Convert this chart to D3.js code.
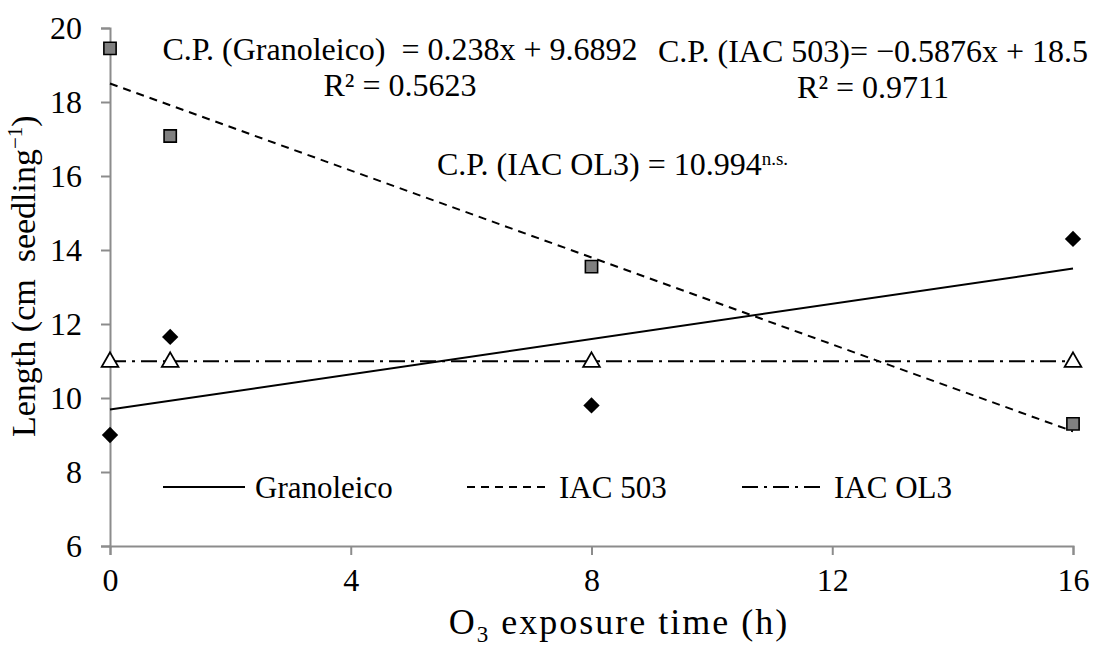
<!DOCTYPE html>
<html>
<head>
<meta charset="utf-8">
<script src="https://cdn.jsdelivr.net/npm/d3@7"></script>
<style>
  body { margin: 0; background: #fff; }
  svg text { font-family: "Times New Roman", "Liberation Serif", Tinos, "DejaVu Serif", serif; fill: #000; white-space: pre; }
</style>
</head>
<body>
<svg id="chart" width="1095" height="646"></svg>
<script>
// exposure times (h)
const times = [0, 1, 8, 16];
// measured lengths (cm seedling-1)
const granoleico = [9.0, 11.65, 9.8, 14.3];
const iac503 = [19.45, 17.08, 13.55, 9.3];
const iacOL3 = [11.0, 11.0, 11.0, 11.0];

// fitted trends: [slope, intercept]
const fitGranoleico = [0.238, 9.6892];
const fitIac503 = [-0.5876, 18.5];
const fitIacOL3 = [0, 10.994];

const xTicks = [0, 4, 8, 12, 16];
const yTicks = [6, 8, 10, 12, 14, 16, 18, 20];

const serif = '"Times New Roman", "Liberation Serif", Tinos, "DejaVu Serif", serif';
const fs = 32;

const svg = d3.select('#chart');
const axisGray = '#8c8c8c';

const x = d3.scaleLinear().domain([0, 16]).range([110, 1073]);
const y = d3.scaleLinear().domain([6, 20]).range([546, 28]);

// y axis
const yAxis = svg.append('g')
    .attr('transform', `translate(${x(0)},0)`)
    .call(d3.axisLeft(y).tickValues(yTicks).tickSize(9).tickPadding(19));
yAxis.attr('font-family', serif).attr('font-size', fs);
yAxis.select('.domain').attr('stroke', axisGray).attr('stroke-width', 2);
yAxis.selectAll('.tick line').attr('stroke', axisGray).attr('stroke-width', 2);

// x axis
const xAxis = svg.append('g')
    .attr('transform', `translate(0,${y(6)})`)
    .call(d3.axisBottom(x).tickValues(xTicks).tickSize(9).tickPadding(13));
xAxis.attr('font-family', serif).attr('font-size', fs);
xAxis.select('.domain').attr('stroke', axisGray).attr('stroke-width', 2);
xAxis.selectAll('.tick line').attr('stroke', axisGray).attr('stroke-width', 2);

// axis titles
const xTitle = svg.append('text')
    .attr('x', 619)
    .attr('y', 634)
    .attr('text-anchor', 'middle')
    .style('font-size', '36px')
    .style('letter-spacing', '2px');
xTitle.append('tspan').text('O');
xTitle.append('tspan').attr('dy', 8).style('font-size', '23px').text('3');
xTitle.append('tspan').attr('dy', -8).text(' exposure time (h)');

const yTitle = svg.append('text')
    .attr('transform', `translate(35,437) rotate(-90)`)
    .attr('text-anchor', 'start')
    .style('font-size', '34px');
yTitle.append('tspan').text('Length (cm  seedling');
yTitle.append('tspan').attr('dy', -13).style('font-size', '21px').text('−1');
yTitle.append('tspan').attr('dy', 13).text(')');

// trend lines
const trends = [
    { fit: fitGranoleico, dash: null },
    { fit: fitIac503, dash: '8,6' },
    { fit: fitIacOL3, dash: '16,6,3,6' }
];
const line = d3.line().x(d => x(d[0])).y(d => y(d[1]));
trends.forEach(t => {
    const pts = [0, 16].map(h => [h, t.fit[0] * h + t.fit[1]]);
    svg.append('path')
        .attr('d', line(pts))
        .attr('fill', 'none')
        .attr('stroke', '#000')
        .attr('stroke-width', 2)
        .attr('stroke-dasharray', t.dash);
});

// markers
svg.selectAll('.gran')
    .data(times.map((t, i) => [t, granoleico[i]]))
    .enter().append('path')
    .attr('d', d3.symbol().type(d3.symbolDiamond2).size(170))
    .attr('transform', d => `translate(${x(d[0])},${y(d[1])})`)
    .attr('fill', '#000');

svg.selectAll('.iac503')
    .data(times.map((t, i) => [t, iac503[i]]))
    .enter().append('path')
    .attr('d', d3.symbol().type(d3.symbolSquare).size(150))
    .attr('transform', d => `translate(${x(d[0])},${y(d[1])})`)
    .attr('fill', '#808080')
    .attr('stroke', '#000')
    .attr('stroke-width', 1.6);

svg.selectAll('.ol3')
    .data(times.map((t, i) => [t, iacOL3[i]]))
    .enter().append('path')
    .attr('d', d3.symbol().type(d3.symbolTriangle).size(120))
    .attr('transform', d => `translate(${x(d[0])},${y(d[1]) + 1})`)
    .attr('fill', '#fff')
    .attr('stroke', '#000')
    .attr('stroke-width', 1.8);

// legend
const legendItems = [
    { label: 'Granoleico', dash: null, x0: 163 },
    { label: 'IAC 503', dash: '8,6', x0: 467 },
    { label: 'IAC OL3', dash: '16,6,3,6', x0: 742 }
];
const legendY = 487;
legendItems.forEach(d => {
    svg.append('line')
        .attr('x1', d.x0).attr('x2', d.x0 + 82)
        .attr('y1', legendY).attr('y2', legendY)
        .attr('stroke', '#000').attr('stroke-width', 2)
        .attr('stroke-dasharray', d.dash);
    svg.append('text')
        .attr('x', d.x0 + 92)
        .attr('y', legendY + 11)
        .style('font-size', '31px')
        .text(d.label);
});

// equations
const eq = (tx, ty, anchor, str) => svg.append('text')
    .attr('x', tx).attr('y', ty)
    .attr('text-anchor', anchor)
    .style('font-size', fs + 'px')
    .text(str);
eq(400, 60, 'middle', 'C.P. (Granoleico)  = 0.238x + 9.6892');
eq(400, 96, 'middle', 'R² = 0.5623');
eq(873, 62, 'middle', 'C.P. (IAC 503)= −0.5876x + 18.5');
eq(873, 98, 'middle', 'R² = 0.9711');
const ol3Eq = eq(437, 175, 'start', 'C.P. (IAC OL3) = 10.994');
ol3Eq.append('tspan').attr('dy', -10).style('font-size', '19px').text('n.s.');
</script>
</body>
</html>
